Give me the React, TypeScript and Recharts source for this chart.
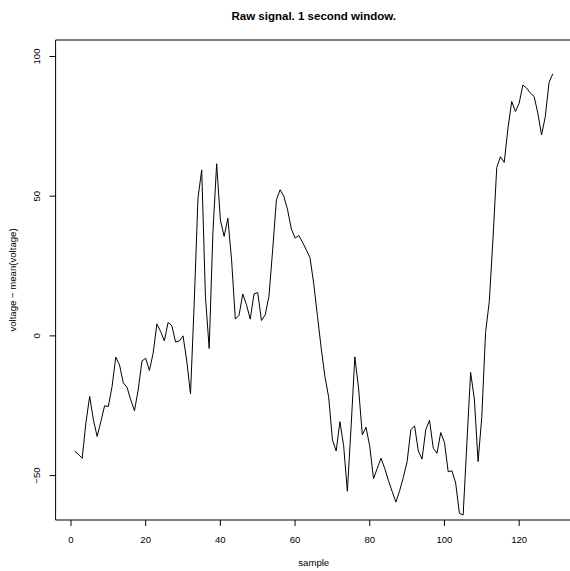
import { LineChart, Line, XAxis, YAxis, ReferenceArea, Label } from 'recharts'

// raw signal, one value per sample (1..129)
const VOLTAGE = [
  -41.3, -42.4, -43.8, -31, -21.7, -30, -36, -30.7, -25, -25.3,
  -18.1, -7.6, -10.4, -16.8, -18.4, -22.9, -26.8, -19.3, -9, -8,
  -12.4, -6.2, 4.3, 1.6, -1.8, 4.8, 3.7, -2.2, -1.8, 0,
  -9, -20.8, 12, 49.3, 59.4, 14, -4.5, 37, 61.6, 41.5,
  35.6, 42.1, 27.2, 6, 7.4, 15, 11.1, 6, 15, 15.5,
  5.5, 7.5, 14.1, 30.8, 48.7, 52.3, 49.9, 45.1, 38.3, 35,
  35.9, 33.5, 30.8, 28, 18.6, 7, -4.5, -14.6, -22, -37.2,
  -41.2, -30.7, -39.3, -55.6, -32.5, -7.5, -18.7, -35.4, -32.7, -39.6,
  -51.1, -47.4, -43.8, -47.4, -51.8, -55.7, -59.5, -55.4, -50.6, -45,
  -33.6, -32.2, -41.2, -44.1, -33.5, -30.2, -40.2, -42, -34.6, -38.1,
  -48.6, -48.3, -52.7, -63.5, -64.1, -38.4, -13.1, -22.6, -45, -28.9,
  1.2, 12.3, 35, 60.3, 64.1, 62.1, 74.3, 83.9, 80.3, 83.3,
  89.8, 88.7, 86.9, 85.7, 79.7, 71.9, 78.5, 90.7, 93.8,
]
const SAMPLES = VOLTAGE.map((_, i) => i + 1)

const SAMPLE_TICKS = [0, 20, 40, 60, 80, 100, 120]
const VOLTAGE_TICKS = [-50, 0, 50, 100]

const X_DOMAIN = [-4.12, 134.12]
const Y_DOMAIN = [-65.9, 105.9]

const FONT = '"Liberation Sans", Arial, Helvetica, sans-serif'

const data = SAMPLES.map((sample, i) => ({ sample, voltage: VOLTAGE[i] }))

const minus = (v: number) => String(v).replace('-', '\u2212')

function YTick({ x, y, payload }: any) {
  return (
    <text
      x={x}
      y={y}
      dy="0.35em"
      transform={`rotate(-90 ${x} ${y})`}
      textAnchor="middle"
      fontSize={9.6}
      fontFamily={FONT}
      fill="#000"
    >
      {minus(payload.value)}
    </text>
  )
}

function YTitle({ viewBox }: any) {
  const cx = 13
  const cy = viewBox.y + viewBox.height / 2
  return (
    <text
      x={cx}
      y={cy}
      dy="0.35em"
      transform={`rotate(-90 ${cx} ${cy})`}
      textAnchor="middle"
      fontSize={9.6}
      fontFamily={FONT}
      fill="#000"
    >
      voltage − mean(voltage)
    </text>
  )
}

export default function App() {
  return (
    <div
      style={{
        position: 'absolute',
        left: 0,
        top: 0,
        width: 570,
        height: 571,
        overflow: 'hidden',
        background: '#fff',
      }}
    >
      <LineChart
        width={580}
        height={571}
        data={data}
        margin={{ top: 40, right: 8.1, bottom: 0, left: 0 }}
      >
        <XAxis
          dataKey="sample"
          type="number"
          domain={X_DOMAIN}
          ticks={SAMPLE_TICKS}
          allowDataOverflow
          axisLine={false}
          tickLine={{ stroke: '#000' }}
          tickSize={6}
          tickMargin={10}
          height={51}
          tick={{ fontSize: 9.6, fontFamily: FONT, fill: '#000' }}
          interval={0}
        >
          <Label
            value="sample"
            position="insideBottom"
            offset={5}
            style={{ fontSize: 9.6, fontFamily: FONT, fill: '#000' }}
          />
        </XAxis>
        <YAxis
          type="number"
          domain={Y_DOMAIN}
          ticks={VOLTAGE_TICKS}
          allowDataOverflow
          axisLine={false}
          tickLine={{ stroke: '#000' }}
          tickSize={6}
          tickMargin={12.6}
          width={55.6}
          tick={<YTick />}
          interval={0}
        >
          <Label content={<YTitle />} />
        </YAxis>
        <ReferenceArea
          x1={X_DOMAIN[0]}
          x2={X_DOMAIN[1]}
          y1={Y_DOMAIN[0]}
          y2={Y_DOMAIN[1]}
          fill="none"
          stroke="#000"
          strokeWidth={1}
          ifOverflow="visible"
        >
          <Label
            value="Raw signal. 1 second window."
            position="top"
            offset={20}
            style={{ fontSize: 11.5, fontWeight: 'bold', fontFamily: FONT, fill: '#000' }}
          />
        </ReferenceArea>
        <Line
          type="linear"
          dataKey="voltage"
          stroke="#000"
          strokeWidth={1}
          dot={false}
          isAnimationActive={false}
        />
      </LineChart>
    </div>
  )
}
